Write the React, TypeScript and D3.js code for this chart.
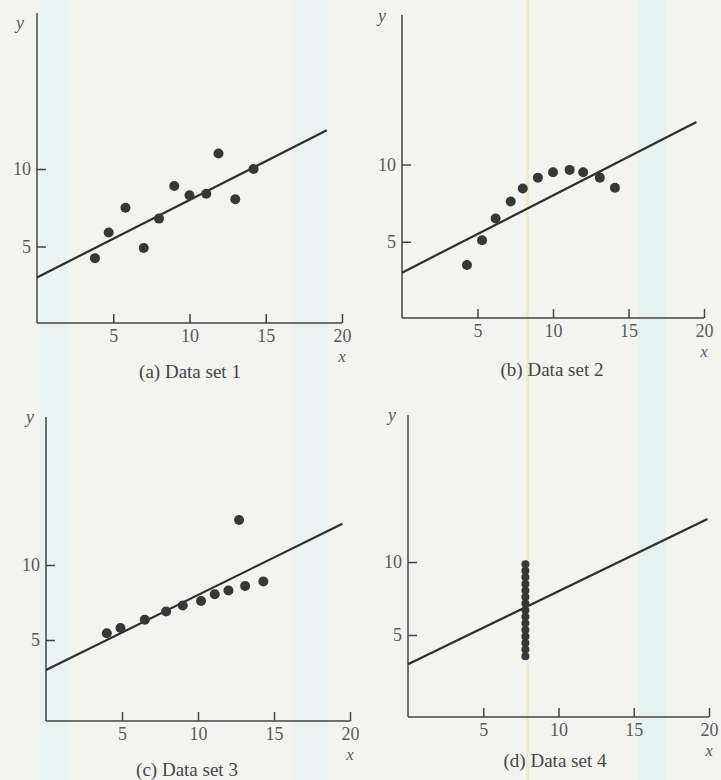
import React, { useEffect, useRef } from 'react'
import * as d3 from 'd3'

// values (four data sets, same fitted line)
const xSet1 = [3.8, 4.7, 5.8, 7.0, 8.0, 9.0, 10.0, 11.1, 11.9, 13.0, 14.2]
const ySet1 = [4.25, 5.9, 7.5, 4.9, 6.8, 8.9, 8.3, 8.4, 11.0, 8.05, 10.0]

const xSet2 = [4.3, 5.3, 6.2, 7.2, 8.0, 9.0, 10.0, 11.1, 12.0, 13.1, 14.1]
const ySet2 = [3.5, 5.1, 6.5, 7.6, 8.45, 9.15, 9.5, 9.65, 9.5, 9.15, 8.5]

const xSet3 = [4.0, 4.9, 6.5, 7.9, 9.0, 10.2, 11.1, 12.0, 12.7, 13.1, 14.3]
const ySet3 = [5.45, 5.8, 6.35, 6.9, 7.3, 7.6, 8.05, 8.3, 13.0, 8.6, 8.9]

const xSet4 = [7.8, 7.8, 7.8, 7.8, 7.8, 7.8, 7.8, 7.8, 7.8, 7.8, 7.8, 7.8, 7.8, 7.8, 7.8]
const ySet4 = [9.85, 9.4, 8.95, 8.5, 8.05, 7.6, 7.15, 6.7, 6.25, 5.8, 5.35, 4.9, 4.45, 4.0, 3.55]

const captions = ['(a) Data set 1', '(b) Data set 2', '(c) Data set 3', '(d) Data set 4']
const xTicks = [5, 10, 15, 20]
const yTicks = [5, 10]
const fitIntercept = 3
const fitSlope = 0.5
const fitXEnd = [19, 19.5, 19.5, 19.9]

const xs = [xSet1, xSet2, xSet3, xSet4]
const ys = [ySet1, ySet2, ySet3, ySet4]

// layout of each panel in pixels (scanned page is a bit uneven)
const layout = [
  { x0: 37, x20: 342, axisY: 323, y0: 324, unit: 15.5, top: 13, capX: 190, capY: 378, yLabX: 20, yLabY: 29, r: 5 },
  { x0: 402, x20: 704, axisY: 318, y0: 319, unit: 15.45, top: 15, capX: 552, capY: 376, yLabX: 382, yLabY: 22, r: 5 },
  { x0: 46, x20: 350, axisY: 721, y0: 715, unit: 15, top: 417, capX: 187, capY: 776, yLabX: 30, yLabY: 423, r: 5 },
  { x0: 408, x20: 709, axisY: 717, y0: 708, unit: 14.6, top: 415, capX: 555, capY: 767, yLabX: 392, yLabY: 421, r: 4 },
]

const font = "'Liberation Serif', 'Times New Roman', serif"

const App = () => {
  const ref = useRef<SVGSVGElement>(null)

  useEffect(() => {
    const svg = d3.select(ref.current)
    svg.selectAll('*').remove()

    // paper background with faint scan stripes
    svg.append('rect').attr('width', 721).attr('height', 780).attr('fill', '#f3f4f0')
    const stripes = [[40, 28, '#e9f3f1'], [292, 36, '#eaf3f1'], [638, 28, '#e6f2f0'], [526, 3, '#f0e9cf']]
    stripes.forEach(([x, w, c]) => {
      svg.append('rect').attr('x', x).attr('y', 0).attr('width', w).attr('height', 780).attr('fill', c as string)
    })

    layout.forEach((p, i) => {
      const g = svg.append('g')
      const x = d3.scaleLinear().domain([0, 20]).range([p.x0, p.x20])
      const y = d3.scaleLinear().domain([0, 20]).range([p.y0, p.y0 - 20 * p.unit])

      // axis lines
      g.append('line').attr('x1', p.x0).attr('x2', p.x0).attr('y1', p.axisY).attr('y2', p.top)
        .attr('stroke', '#444').attr('stroke-width', 1.5)
      g.append('line').attr('x1', p.x0).attr('x2', p.x20).attr('y1', p.axisY).attr('y2', p.axisY)
        .attr('stroke', '#444').attr('stroke-width', 1.5)

      const xAxis = g.append('g').attr('transform', `translate(0,${p.axisY})`)
        .call(d3.axisBottom(x).tickValues(xTicks).tickSize(-9).tickPadding(6).tickFormat(d3.format('d')))
      const yAxis = g.append('g').attr('transform', `translate(${p.x0},0)`)
        .call(d3.axisLeft(y).tickValues(yTicks).tickSize(-9).tickPadding(6).tickFormat(d3.format('d')))
      ;[xAxis, yAxis].forEach(a => {
        a.attr('font-family', font)
        a.select('.domain').remove()
        a.selectAll('line').attr('stroke', '#444').attr('stroke-width', 1.5)
        a.selectAll('text').attr('font-family', font).attr('font-size', 18).attr('fill', '#5a5a5a')
      })

      // axis letters
      g.append('text').attr('x', p.x20).attr('y', p.axisY + 39).attr('text-anchor', 'middle')
        .attr('font-family', font).attr('font-style', 'italic').attr('font-size', 17).attr('fill', '#5a5a5a').text('x')
      g.append('text').attr('x', p.yLabX).attr('y', p.yLabY).attr('text-anchor', 'middle')
        .attr('font-family', font).attr('font-style', 'italic').attr('font-size', 18).attr('fill', '#5a5a5a').text('y')

      // fitted line
      const fit = [0, fitXEnd[i]].map(v => [v, fitIntercept + fitSlope * v] as [number, number])
      g.append('path').datum(fit)
        .attr('d', d3.line<[number, number]>().x(d => x(d[0])).y(d => y(d[1])))
        .attr('fill', 'none').attr('stroke', '#2e2e2e').attr('stroke-width', 2.2)

      // points
      const pts = xs[i].map((v, j) => ({ x: v, y: ys[i][j] }))
      g.selectAll('circle').data(pts).join('circle')
        .attr('cx', d => x(d.x)).attr('cy', d => y(d.y)).attr('r', p.r)
        .attr('fill', '#343836')

      g.append('text').attr('x', p.capX).attr('y', p.capY).attr('text-anchor', 'middle')
        .attr('font-family', font).attr('font-size', 19).attr('fill', '#454545').text(captions[i])
    })
  }, [])

  return (
    <svg ref={ref} width={721} height={780} style={{ position: 'absolute', left: 0, top: 0 }} />
  )
}

export default App
